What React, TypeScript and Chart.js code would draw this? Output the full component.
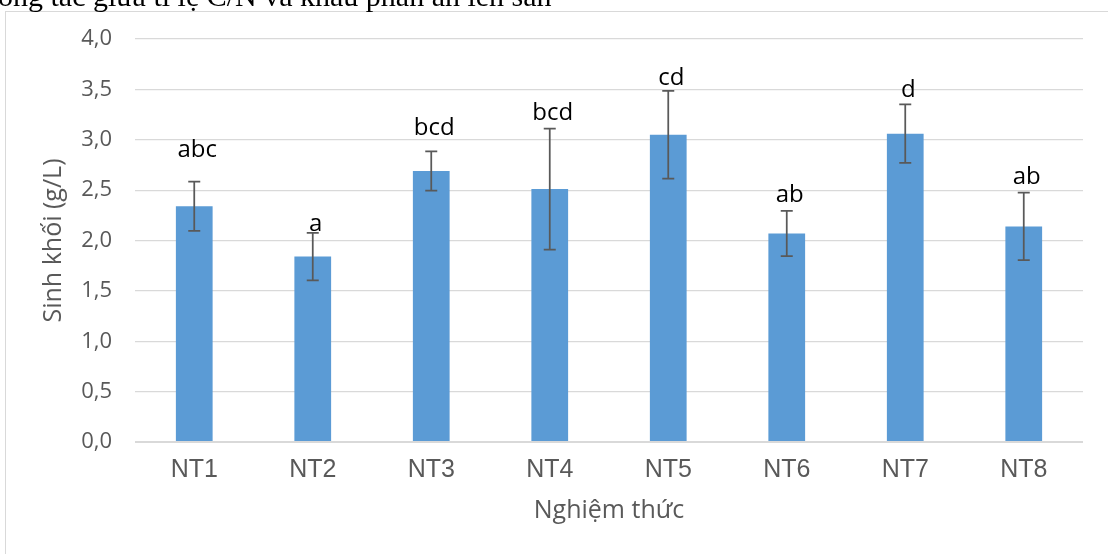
import React, { useEffect, useRef } from "react";
import { Chart, registerables } from "chart.js";

Chart.register(...registerables);

const categories = ["NT1", "NT2", "NT3", "NT4", "NT5", "NT6", "NT7", "NT8"];
const means = [2.34, 1.84, 2.69, 2.51, 3.05, 2.07, 3.06, 2.14];
const errors = [0.245, 0.235, 0.195, 0.6, 0.435, 0.225, 0.29, 0.335];
const letters = ["abc", "a", "bcd", "bcd", "cd", "ab", "d", "ab"];
const letterBaseline = [2.83, 2.09, 3.05, 3.2, 3.54, 2.38, 3.42, 2.56];
const yTicks = [0, 0.5, 1, 1.5, 2, 2.5, 3, 3.5, 4];

const headerText = "ông tác giữa tỉ lệ C/N và khẩu phần ăn lên sản";
const yTitle = "Sinh khối (g/L)";
const xTitle = "Nghiệm thức";

const errorBarPlugin = {
  id: "errorBarsLetters",
  afterDatasetsDraw(chart: any) {
    const ctx = chart.ctx;
    const xs = chart.scales.x;
    const ys = chart.scales.y;
    ctx.save();
    ctx.strokeStyle = "#595959";
    ctx.lineWidth = 1.75;
    means.forEach((m, i) => {
      const x = xs.getPixelForValue(i);
      const yt = ys.getPixelForValue(m + errors[i]);
      const yb = ys.getPixelForValue(m - errors[i]);
      ctx.beginPath();
      ctx.moveTo(x, yt);
      ctx.lineTo(x, yb);
      ctx.moveTo(x - 6, yt);
      ctx.lineTo(x + 6, yt);
      ctx.moveTo(x - 6, yb);
      ctx.lineTo(x + 6, yb);
      ctx.stroke();
    });
    ctx.fillStyle = "#000000";
    ctx.font = '24px "Open Sans"';
    ctx.textAlign = "center";
    ctx.textBaseline = "alphabetic";
    letters.forEach((t, i) => {
      const x = xs.getPixelForValue(i);
      const y = ys.getPixelForValue(letterBaseline[i]);
      ctx.fillText(t, x + 3, y);
    });
    ctx.restore();
  },
};

export default function App() {
  const ref = useRef<HTMLCanvasElement | null>(null);
  useEffect(() => {
    if (!ref.current) return;
    const chart = new Chart(ref.current, {
      type: "bar",
      data: {
        labels: categories,
        datasets: [
          {
            data: means,
            backgroundColor: "#5B9BD5",
            borderWidth: 0,
            barPercentage: 0.31,
            categoryPercentage: 1.0,
          },
        ],
      },
      options: {
        responsive: false,
        animation: false,
        layout: { padding: { top: 39, right: 25, left: 0, bottom: 0 } },
        plugins: {
          legend: { display: false },
          tooltip: { enabled: false },
        },
        scales: {
          x: {
            grid: { display: false, drawTicks: false },
            border: { display: false },
            ticks: {
              color: "#595959",
              font: { family: '"Liberation Sans Narrow", "Liberation Sans", Arial', size: 25 },
              padding: 13,
              maxRotation: 0,
              autoSkip: false,
            },
            title: {
              display: true,
              text: xTitle,
              color: "#595959",
              font: { family: '"Open Sans"', size: 25 },
              padding: { top: 0, bottom: 28 },
            },
            afterFit(scale: any) {
              scale.height = 112;
            },
          },
          y: {
            min: 0,
            max: 4,
            afterBuildTicks(scale: any) {
              scale.ticks = yTicks.map((v) => ({ value: v }));
            },
            grid: {
              color: "#d9d9d9",
              lineWidth: (c: any) => (c.tick && c.tick.value === 0 ? 2 : 1.2),
              drawTicks: false,
            },
            border: { display: false },
            ticks: {
              color: "#595959",
              font: { family: '"Open Sans"', size: 22 },
              padding: 23,
              callback: (v: any) => Number(v).toFixed(1).replace(".", ","),
            },
            title: {
              display: true,
              text: yTitle,
              color: "#595959",
              font: { family: '"Open Sans"', size: 25 },
              padding: { top: 39, bottom: 0 },
            },
            afterFit(scale: any) {
              scale.width = 135;
            },
          },
        },
      },
      plugins: [errorBarPlugin],
    });
    return () => chart.destroy();
  }, []);

  return (
    <div
      style={{
        position: "fixed",
        left: 0,
        top: 0,
        width: 1108,
        height: 554,
        overflow: "hidden",
        background: "#ffffff",
      }}
    >
      <div
        style={{
          position: "absolute",
          left: 5,
          top: 11,
          width: 1300,
          height: 800,
          border: "1px solid #d9d9d9",
          boxSizing: "border-box",
        }}
      />
      <canvas
        ref={ref}
        width={1108}
        height={554}
        style={{ position: "absolute", left: 0, top: 0, width: 1108, height: 554 }}
      />
      <div
        style={{
          position: "absolute",
          left: -2,
          top: -19,
          fontFamily: '"Liberation Serif", "Times New Roman", serif',
          fontSize: 30,
          lineHeight: "30px",
          whiteSpace: "nowrap",
          color: "#000",
        }}
      >
        {headerText}
      </div>
    </div>
  );
}
